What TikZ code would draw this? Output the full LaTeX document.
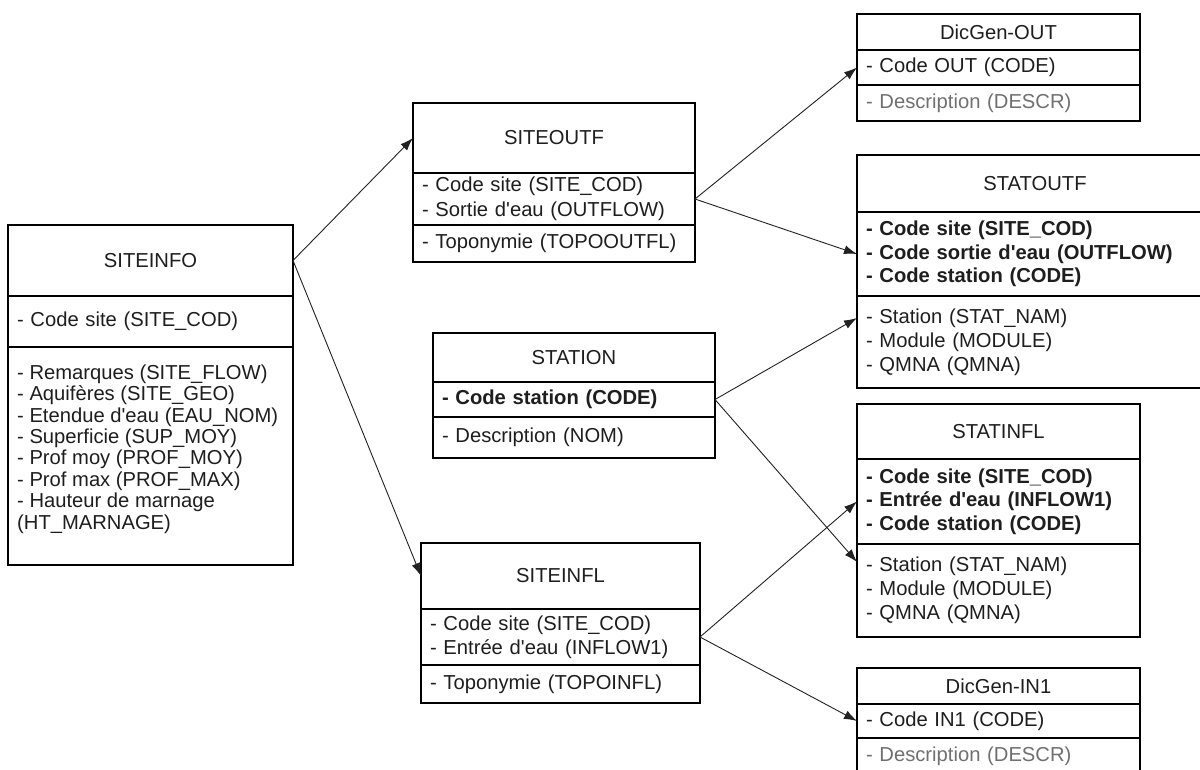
\documentclass[tikz,border=0pt]{standalone}
\usepackage{fontspec}
\setmainfont{Liberation Sans}
\usetikzlibrary{arrows.meta,calc}
\definecolor{txt}{HTML}{1E1E1E}
\definecolor{lighttxt}{HTML}{707070}
\definecolor{linecol}{HTML}{222222}
\begin{document}
\begin{tikzpicture}[x=1pt,y=-1pt,
  cell/.style n args={3}{draw=black, line width=1.2pt, anchor=north west,
    outer sep=0pt, inner xsep=9pt, inner ysep=0pt, text=txt,
    font=\fontsize{20.2}{24}\selectfont, align=left,
    minimum width=#1, minimum height=#2, text width=#3},
  head/.style={align=center},
  key/.style={font=\bfseries\fontsize{20.2}{23.5}\selectfont},
  dim/.style={text=lighttxt},
  listtxt/.style={anchor=north west, inner sep=0pt, text=txt, align=left,
    font=\fontsize{20.2}{21.4}\selectfont},
  conn/.style={draw=linecol, line width=0.9pt, -{Latex[length=13pt,width=9pt]}}
]
\clip (0,0) rectangle (1200,769);
\fill[white] (0,0) rectangle (1200,769);

% SITEINFO
\node[cell={285pt}{71pt}{267pt}, head] (si-h) at (8,225) {SITEINFO};
\node[cell={285pt}{51pt}{267pt}] (si-k) at (si-h.south west) {- Code site (SITE\_COD)};
\node[cell={285pt}{218pt}{267pt}] (si-a) at (si-k.south west) {};
\node[listtxt] (si-t) at ($(si-a.north west)+(9,17.5)$) {- Remarques (SITE\_FLOW)\\- Aquifères (SITE\_GEO)\\- Etendue d\textquotesingle eau (EAU\_NOM)\\- Superficie (SUP\_MOY)\\- Prof moy (PROF\_MOY)\\- Prof max (PROF\_MAX)\\- Hauteur de marnage\\(HT\_MARNAGE)};

% SITEOUTF
\node[cell={282pt}{70pt}{264pt}, head] (so-h) at (413,103) {SITEOUTF};
\node[cell={282pt}{52pt}{264pt}, font=\fontsize{20.2}{25}\selectfont] (so-k) at (so-h.south west) {- Code site (SITE\_COD)\\- Sortie d\textquotesingle eau (OUTFLOW)};
\node[cell={282pt}{37pt}{264pt}] (so-a) at (so-k.south west) {- Toponymie (TOPOOUTFL)};

% STATION
\node[cell={282pt}{49pt}{264pt}, head] (st-h) at (433,333) {STATION};
\node[cell={282pt}{35pt}{264pt}, key] (st-k) at (st-h.south west) {- Code station (CODE)};
\node[cell={282pt}{41pt}{264pt}] (st-a) at (st-k.south west) {- Description (NOM)};

% SITEINFL
\node[cell={279pt}{66pt}{261pt}, head] (sf-h) at (421,543) {SITEINFL};
\node[cell={279pt}{56pt}{261pt}] (sf-k) at (sf-h.south west) {- Code site (SITE\_COD)\\- Entrée d\textquotesingle eau (INFLOW1)};
\node[cell={279pt}{38pt}{261pt}] (sf-a) at (sf-k.south west) {- Toponymie (TOPOINFL)};

% DicGen-OUT
\node[cell={283pt}{36pt}{265pt}, head] (do-h) at (857,14) {DicGen-OUT};
\node[cell={283pt}{35pt}{265pt}] (do-k) at (do-h.south west) {- Code OUT (CODE)};
\node[cell={283pt}{36pt}{265pt}, dim] (do-a) at (do-k.south west) {- Description (DESCR)};

% STATOUTF
\node[cell={356pt}{57pt}{338pt}, head] (sto-h) at (857,155) {STATOUTF};
\node[cell={356pt}{84pt}{338pt}, key] (sto-k) at (sto-h.south west) {- Code site (SITE\_COD)\\- Code sortie d\textquotesingle eau (OUTFLOW)\\- Code station (CODE)};
\node[cell={356pt}{92pt}{338pt}] (sto-a) at (sto-k.south west) {- Station (STAT\_NAM)\\- Module (MODULE)\\- QMNA (QMNA)};

% STATINFL
\node[cell={283pt}{55pt}{265pt}, head] (sti-h) at (857,404) {STATINFL};
\node[cell={283pt}{85pt}{265pt}, key] (sti-k) at (sti-h.south west) {- Code site (SITE\_COD)\\- Entrée d\textquotesingle eau (INFLOW1)\\- Code station (CODE)};
\node[cell={283pt}{93pt}{265pt}] (sti-a) at (sti-k.south west) {- Station (STAT\_NAM)\\- Module (MODULE)\\- QMNA (QMNA)};

% DicGen-IN1
\node[cell={283pt}{36pt}{265pt}, head] (di-h) at (857,668) {DicGen-IN1};
\node[cell={283pt}{34pt}{265pt}] (di-k) at (di-h.south west) {- Code IN1 (CODE)};
\node[cell={283pt}{37pt}{265pt}, dim] (di-a) at (di-k.south west) {- Description (DESCR)};

% target points inside attribute sections
\coordinate (sto-tgt) at ($(sto-a.north west)+(0,22)$);
\coordinate (sti-tgt) at ($(sti-a.north west)+(0,18)$);

% connectors
\draw[conn] (si-h.east) -- (so-h.west);
\draw[conn] (si-h.east) -- (sf-h.west);
\draw[conn] (so-k.east) -- (do-k.west);
\draw[conn] (so-k.east) -- (sto-k.west);
\draw[conn] (st-k.east) -- (sto-tgt);
\draw[conn] (st-k.east) -- (sti-tgt);
\draw[conn] (sf-k.east) -- (sti-k.west);
\draw[conn] (sf-k.east) -- (di-k.west);
\end{tikzpicture}
\end{document}
